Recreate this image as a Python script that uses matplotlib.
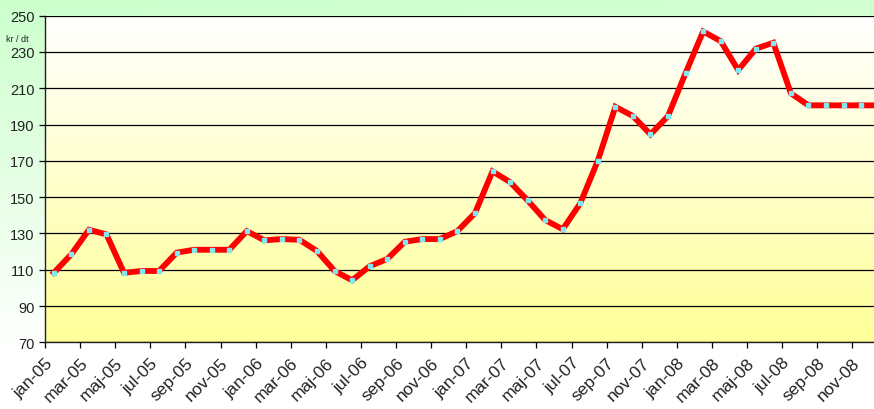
import numpy as np
import matplotlib.pyplot as plt
from matplotlib.colors import LinearSegmentedColormap

plt.rcParams["font.family"] = ["Liberation Sans", "DejaVu Sans"]

months = ["jan", "feb", "mar", "apr", "maj", "jun", "jul", "aug", "sep", "okt", "nov", "dec"]
years = ["05", "06", "07", "08"]
labels = [f"{m}-{y}" for y in years for m in months]

prices = [
    108.3, 118.5, 132.0, 129.5, 108.3, 109.3, 109.3, 119.4, 121.0, 121.0, 121.0, 131.3,
    126.2, 126.9, 126.5, 120.3, 109.3, 104.2, 111.9, 115.9, 125.4, 126.9, 126.9, 131.3,
    141.2, 164.2, 158.3, 148.2, 137.4, 132.3, 146.6, 170.1, 199.8, 194.7, 184.6, 194.7,
    218.4, 241.3, 236.0, 220.0, 231.8, 235.1, 207.2, 200.6, 200.6, 200.6, 200.6, 200.6,
]

W, H = 874, 410
fig = plt.figure(figsize=(W / 100, H / 100), dpi=100)

# figure background: light green at top fading to white
bg = fig.add_axes([0, 0, 1, 1], zorder=-10)
yy, xx = np.mgrid[0:1:200j, 0:1:200j]
grad = np.clip(1.0 - (yy * 1.15 + xx * 0.1), 0, 1)
green = LinearSegmentedColormap.from_list("g", ["#ffffff", "#ccffcc"])
bg.imshow(grad, cmap=green, aspect="auto", extent=[0, 1, 1, 0], vmin=0, vmax=1)
bg.set_axis_off()

left, top, bottom = 45, 16.7, 343.3
n = len(prices)
ax = fig.add_axes([left / W, (H - bottom) / H, n * 17.55 / W, (bottom - top) / H])

# plot area: white top to yellow bottom
yellow = LinearSegmentedColormap.from_list("y", ["#ffff99", "#ffffff"])
ax.imshow(np.linspace(0, 1, 200).reshape(-1, 1), cmap=yellow, aspect="auto",
          extent=[-0.5, n - 0.5, 70, 250], origin="lower", zorder=0)

x = np.arange(n)
ax.plot(x, prices, color="#ff0000", lw=4.2, zorder=3, solid_joinstyle="miter")
ax.plot(x, prices, ls="none", marker="s", ms=2.2, mfc="#80e8f0", mec="#80e8f0", zorder=4)

ax.set_xlim(-0.5, n - 0.5)
ax.set_ylim(70, 250)
ax.set_yticks(range(70, 251, 20))
ax.grid(axis="y", color="#000000", lw=0.9, zorder=1)
ax.set_axisbelow(False)

ax.set_xticks(np.arange(0, n, 2) - 0.5)
ax.set_xticklabels(labels[::2], rotation=45, ha="right", va="top", rotation_mode="anchor")
ax.tick_params(axis="both", direction="out", length=4, width=0.9, colors="#000000",
               labelcolor="#222222")
ax.tick_params(axis="y", labelsize=10.5)
ax.tick_params(axis="x", labelsize=12.5, pad=5)

for side in ["top", "right"]:
    ax.spines[side].set_visible(False)
for side in ["left", "bottom"]:
    ax.spines[side].set_color("#222222")
    ax.spines[side].set_linewidth(1.0)

fig.text(6 / W, 1 - 40 / H, "kr / dt", fontsize=6.5, color="#222222", va="center")

fig.savefig("out.png", dpi=100)
